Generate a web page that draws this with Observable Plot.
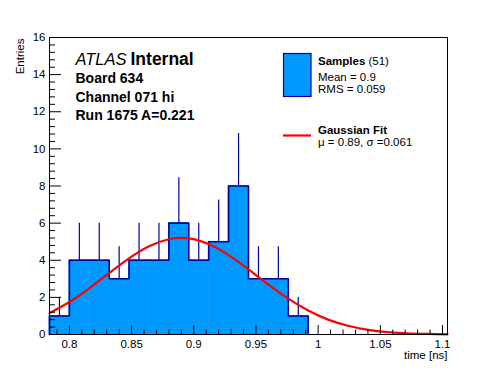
<!DOCTYPE html>
<html><head><meta charset="utf-8">
<script src="https://cdn.jsdelivr.net/npm/d3@7"></script>
<script src="https://cdn.jsdelivr.net/npm/@observablehq/plot@0.6"></script>
<style>
body{margin:0;background:#fff;}
#chart svg{display:block;}
</style>
</head><body><div id="chart"></div>
<script>
// histogram bin edges (ns) and contents
const binEdges = [0.784, 0.800, 0.816, 0.832, 0.848, 0.864, 0.880, 0.896, 0.912, 0.928, 0.944, 0.960, 0.976, 0.992];
const counts = [1, 4, 4, 3, 4, 4, 6, 4, 5, 8, 3, 3, 1];
const errors = [1, 2, 2, 1.73, 2, 2, 2.45, 2, 2.24, 2.83, 1.73, 1.73, 1];
// Gaussian fit curve
const fitX = [0.784, 0.800, 0.816, 0.832, 0.848, 0.864, 0.880, 0.896, 0.912, 0.928, 0.944, 0.960, 0.976, 0.992, 1.008, 1.024, 1.040, 1.056, 1.072, 1.088, 1.104];
const fitY = [1.15, 1.75, 2.49, 3.31, 4.10, 4.75, 5.13, 5.18, 4.87, 4.28, 3.51, 2.69, 1.93, 1.29, 0.80, 0.47, 0.25, 0.13, 0.06, 0.03, 0.01];
// axis ticks
const xMajor = [0.8, 0.85, 0.9, 0.95, 1, 1.05, 1.1];
const xLabels = ["0.8", "0.85", "0.9", "0.95", "1", "1.05", "1.1"];
const yMajor = [0, 2, 4, 6, 8, 10, 12, 14, 16];
const xDomain = [0.784, 1.104];
const yDomain = [0, 16];

const W = 496, H = 372;
const mL = 49, mR = 49, mT = 37, mB = 38;
const innerW = W - mL - mR, innerH = H - mT - mB;
const pxX = innerW / (xDomain[1] - xDomain[0]);
const pxY = innerH / (yDomain[1] - yDomain[0]);

const xMinor = d3.range(79, 111).map(v => v / 100).filter(v => !xMajor.some(m => Math.abs(m - v) < 1e-9));
const yMinor = d3.range(0, 41).map(v => v * 0.4).filter(v => Math.abs(v / 2 - Math.round(v / 2)) > 1e-6);

const bins = counts.map((c, i) => ({x1: binEdges[i], x2: binEdges[i + 1], y: c, err: errors[i]}));
const outline = [{x: binEdges[0], y: 0}]
  .concat(bins.map(b => ({x: b.x1, y: b.y})))
  .concat([{x: binEdges[binEdges.length - 1], y: counts[counts.length - 1]}, {x: binEdges[binEdges.length - 1], y: 0}]);
const fit = fitX.map((x, i) => ({x, y: fitY[i]}));

const FONT = "Liberation Sans, Arial, Helvetica, sans-serif";
const fill = "#0099ff", edge = "#000099";

const ann = (t, x, base, o = {}) => Plot.text([t], {frameAnchor: "top-left", dx: x - mL, dy: base - mT, lineAnchor: "bottom", textAnchor: "start", fill: "black", fontSize: 11.5, ...o});

const plot = Plot.plot({
  width: W, height: H,
  marginLeft: mL, marginRight: mR, marginTop: mT, marginBottom: mB,
  style: {fontFamily: FONT, background: "white"},
  x: {domain: xDomain, axis: null},
  y: {domain: yDomain, axis: null},
  marks: [
    Plot.rect(bins, {x1: "x1", x2: "x2", y1: 0, y2: "y", fill: fill, stroke: fill, strokeWidth: 0.6}),
    Plot.ruleX(bins, {x: d => (d.x1 + d.x2) / 2, y1: "y", y2: d => d.y + d.err, stroke: edge, strokeWidth: 1.2}),
    Plot.line(outline, {x: "x", y: "y", curve: "step-after", stroke: edge, strokeWidth: 1.6}),
    Plot.line(fit, {x: "x", y: "y", curve: "natural", stroke: "#ff0000", strokeWidth: 2.2}),
    // ticks (inside, ROOT style)
    Plot.ruleX(xMajor, {x: d => d, y1: 0, y2: 9 / pxY, stroke: "black"}),
    Plot.ruleX(xMinor, {x: d => d, y1: 0, y2: 4.5 / pxY, stroke: "black"}),
    Plot.ruleY(yMajor, {y: d => d, x1: xDomain[0], x2: xDomain[0] + 12 / pxX, stroke: "black"}),
    Plot.ruleY(yMinor, {y: d => d, x1: xDomain[0], x2: xDomain[0] + 6 / pxX, stroke: "black"}),
    Plot.frame({stroke: "black"}),
    // tick labels
    Plot.text(xMajor, {x: d => d, text: (d, i) => xLabels[i], frameAnchor: "bottom", dy: 13, lineAnchor: "bottom", fontSize: 11.5, fill: "black"}),
    Plot.text(yMajor, {y: d => d, text: d => String(d), frameAnchor: "left", dx: -4, textAnchor: "end", fontSize: 11.5, fill: "black"}),
    // axis titles
    Plot.text(["time [ns]"], {frameAnchor: "bottom-right", dy: 24, lineAnchor: "bottom", textAnchor: "end", fontSize: 11.5, fill: "black"}),
    Plot.text(["Entries"], {frameAnchor: "top-left", dx: 23 - mL, dy: 1, rotate: -90, textAnchor: "end", lineAnchor: "bottom", fontSize: 11.5, fill: "black"}),
    // annotations
    ann("ATLAS", 75, 64, {fontSize: 16.5, fontStyle: "italic"}),
    ann("Internal", 130, 64, {fontSize: 17.5, fontWeight: "bold"}),
    ann("Board 634", 75, 82, {fontSize: 14, fontWeight: "bold"}),
    ann("Channel 071 hi", 75, 101, {fontSize: 14, fontWeight: "bold"}),
    ann("Run 1675 A=0.221", 75, 119.5, {fontSize: 14, fontWeight: "bold"}),
    // legend text
    ann("Samples", 317.5, 64, {fontWeight: "bold"}),
    ann("(51)", 368, 64),
    ann("Mean = 0.9", 317.5, 80.5),
    ann("RMS = 0.059", 317.5, 92.5),
    ann("Gaussian Fit", 317.5, 133, {fontWeight: "bold"}),
    ann("\u03bc = 0.89, \u03c3 =0.061", 317.5, 145)
  ]
});

// legend swatches
const svg = d3.select(plot);
svg.append("rect").attr("x", 283.5).attr("y", 53.5).attr("width", 27.5).attr("height", 43)
  .attr("fill", fill).attr("stroke", edge).attr("stroke-width", 1.2);
svg.append("line").attr("x1", 283).attr("x2", 311).attr("y1", 135.5).attr("y2", 135.5)
  .attr("stroke", "#ff0000").attr("stroke-width", 2.2);

document.getElementById("chart").appendChild(plot);
</script>
</body></html>
